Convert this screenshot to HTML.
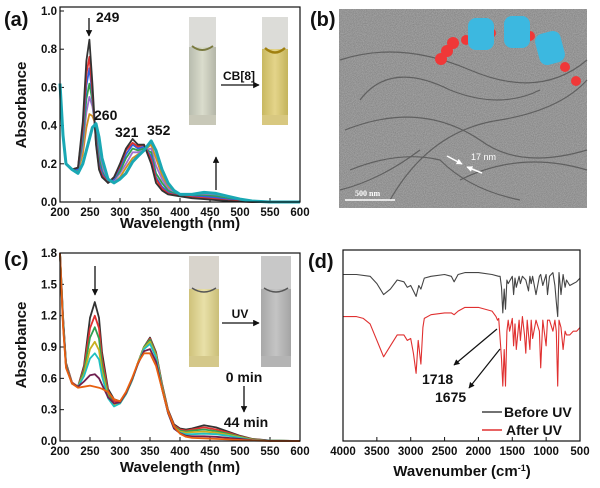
<!DOCTYPE html>
<html><head><meta charset="utf-8">
<style>
html,body{margin:0;padding:0;background:#fff;}
svg{display:block;font-family:"Liberation Sans",sans-serif;}
.tk{font-size:11.5px;font-weight:bold;fill:#111;}
.ttl{font-size:15px;font-weight:bold;fill:#111;}
.pl{font-size:20px;font-weight:bold;fill:#111;}
.ann{font-size:14px;font-weight:bold;fill:#111;}
</style></head>
<body>
<svg id="fig" width="600" height="488" viewBox="0 0 600 488">
<defs>
<filter id="noise" x="0" y="0" width="100%" height="100%">
<feTurbulence type="fractalNoise" baseFrequency="1.1" numOctaves="2" seed="3"/>
<feColorMatrix type="matrix" values="0 0 0 0 0.5  0 0 0 0 0.5  0 0 0 0 0.5  0 0 0 1.6 -0.3"/>
<feComposite in2="SourceGraphic" operator="in"/>
</filter>
<linearGradient id="cuvA1" x1="0" x2="1"><stop offset="0" stop-color="#b8bcae"/><stop offset="0.5" stop-color="#dadccc"/><stop offset="1" stop-color="#b4b6a8"/></linearGradient>
<linearGradient id="cuvA2" x1="0" x2="1"><stop offset="0" stop-color="#c8b860"/><stop offset="0.5" stop-color="#e4d48a"/><stop offset="1" stop-color="#c4b45c"/></linearGradient>
<linearGradient id="cuvC1" x1="0" x2="1"><stop offset="0" stop-color="#cfc27a"/><stop offset="0.5" stop-color="#e8e0a8"/><stop offset="1" stop-color="#cabe78"/></linearGradient>
<linearGradient id="cuvC2" x1="0" x2="1"><stop offset="0" stop-color="#a8a8a8"/><stop offset="0.5" stop-color="#c4c4c4"/><stop offset="1" stop-color="#a4a4a4"/></linearGradient>
<marker id="ah" viewBox="0 0 10 10" refX="9" refY="5" markerWidth="5" markerHeight="5" orient="auto"><path d="M0,0 L10,5 L0,10 z" fill="#111"/></marker>
<marker id="ahw" viewBox="0 0 10 10" refX="9" refY="5" markerWidth="4" markerHeight="4" orient="auto"><path d="M0,0 L10,5 L0,10 z" fill="#fff"/></marker>
</defs>

<!-- Panel A -->
<g id="pa">
<text class="pl" x="4" y="26">(a)</text>
<text class="ttl" transform="translate(26,105) rotate(-90)" text-anchor="middle">Absorbance</text>
<text class="ttl" x="180" y="228" text-anchor="middle">Wavelength (nm)</text>
<g id="pa-ticks"></g>
<g id="pa-series"></g>
<rect x="60" y="7" width="240" height="195" fill="none" stroke="#111" stroke-width="1.2"/>
<g>
<rect x="189" y="17" width="27" height="108" fill="url(#cuvA1)"/>
<rect x="189" y="17" width="27" height="30" fill="#dcdcd8"/>
<rect x="189" y="115" width="27" height="10" fill="#c8c8b8"/>
<path d="M192,46 Q202,54 213,46" stroke="#7a7a40" stroke-width="2" fill="none"/>
</g>
<g>
<rect x="262" y="17" width="26" height="108" fill="url(#cuvA2)"/>
<rect x="262" y="17" width="26" height="32" fill="#dcdcd8"/>
<rect x="262" y="115" width="26" height="10" fill="#d8c880"/>
<path d="M265,48 Q275,57 285,48" stroke="#a08010" stroke-width="2.5" fill="none"/>
</g>
<text class="tk" x="239" y="80" text-anchor="middle" style="font-size:12px">CB[8]</text>
<line x1="221" y1="85" x2="259" y2="85" stroke="#111" stroke-width="1.3" marker-end="url(#ah)"/>
<line x1="216" y1="190" x2="216" y2="157" stroke="#111" stroke-width="1.3" marker-end="url(#ah)"/>
<line x1="89" y1="18" x2="89" y2="36" stroke="#111" stroke-width="1.3" marker-end="url(#ah)"/>
<text class="ann" x="96" y="22">249</text>
<text class="ann" x="94" y="120">260</text>
<text class="ann" x="115" y="137">321</text>
<text class="ann" x="147" y="135">352</text>
</g>

<!-- Panel B -->
<g id="pb">
<text class="pl" x="310" y="26">(b)</text>
<rect x="339" y="9" width="248" height="199" fill="#858585"/>
<rect x="339" y="9" width="248" height="199" fill="#fff" filter="url(#noise)" opacity="0.6"/>
<g fill="none" stroke="#4a4a4a" stroke-width="1.2" opacity="0.7">
<path d="M340,60 Q400,40 470,70 T587,60"/>
<path d="M345,130 Q420,100 480,140 Q520,170 587,150"/>
<path d="M350,170 Q400,150 440,160 Q470,190 520,200"/>
<path d="M360,100 Q390,60 450,90 Q500,110 540,90"/>
<path d="M390,200 Q430,130 500,120 Q560,110 587,80"/>
<path d="M340,190 Q380,180 420,150"/>
<path d="M460,180 Q520,150 587,170"/>
</g>
<g>
<circle cx="441" cy="59" r="6" fill="#f03838"/><circle cx="447" cy="51" r="6" fill="#f03838"/><circle cx="453" cy="43" r="6" fill="#f03838"/>
<circle cx="466" cy="40" r="5" fill="#f03838"/><circle cx="491" cy="33" r="5" fill="#f03838"/><circle cx="530" cy="36" r="5" fill="#f03838"/><circle cx="565" cy="67" r="5" fill="#f03838"/><circle cx="576" cy="81" r="5" fill="#f03838"/>
<rect x="468" y="18" width="26" height="32" rx="8" fill="#3cb8e0"/>
<rect x="504" y="16" width="26" height="32" rx="8" fill="#3cb8e0"/>
<rect x="537" y="32" width="26" height="32" rx="8" fill="#3cb8e0" transform="rotate(-15 550 48)"/>
</g>
<line x1="447" y1="156" x2="462" y2="164" stroke="#fff" stroke-width="1.5" marker-end="url(#ahw)"/>
<line x1="482" y1="173" x2="467" y2="167" stroke="#fff" stroke-width="1.5" marker-end="url(#ahw)"/>
<text x="471" y="160" fill="#fff" style="font-size:9px">17 nm</text>
<line x1="345" y1="200" x2="395" y2="200" stroke="#fff" stroke-width="1.5"/>
<text x="355" y="196" fill="#fff" style="font-size:8px;font-family:'Liberation Serif',serif;font-weight:bold">500 nm</text>
</g>

<!-- Panel C -->
<g id="pc">
<text class="pl" x="4" y="266">(c)</text>
<text class="ttl" transform="translate(26,345) rotate(-90)" text-anchor="middle">Absorbance</text>
<text class="ttl" x="180" y="472" text-anchor="middle">Wavelength (nm)</text>
<g id="pc-ticks"></g>
<g id="pc-series"></g>
<rect x="60" y="253" width="240" height="188" fill="none" stroke="#111" stroke-width="1.2"/>
<g>
<rect x="189" y="256" width="30" height="111" fill="url(#cuvC1)"/>
<rect x="189" y="256" width="30" height="33" fill="#d8d4cc"/>
<rect x="189" y="356" width="30" height="11" fill="#d4c88a"/>
<path d="M192,288 Q204,296 216,288" stroke="#555" stroke-width="1.5" fill="none"/>
</g>
<g>
<rect x="261" y="256" width="30" height="111" fill="url(#cuvC2)"/>
<rect x="261" y="256" width="30" height="33" fill="#c8c8c8"/>
<rect x="261" y="356" width="30" height="11" fill="#b4b4b4"/>
<path d="M264,288 Q276,296 288,288" stroke="#555" stroke-width="1.5" fill="none"/>
</g>
<text class="tk" x="240" y="318" text-anchor="middle" style="font-size:12px">UV</text>
<line x1="222" y1="323" x2="259" y2="323" stroke="#111" stroke-width="1.3" marker-end="url(#ah)"/>
<line x1="95" y1="266" x2="95" y2="295" stroke="#111" stroke-width="1.3" marker-end="url(#ah)"/>
<text class="ann" x="244" y="382" text-anchor="middle">0 min</text>
<line x1="244" y1="386" x2="244" y2="412" stroke="#111" stroke-width="1.3" marker-end="url(#ah)"/>
<text class="ann" x="246" y="427" text-anchor="middle">44 min</text>
</g>

<!-- Panel D -->
<g id="pd">
<text class="pl" x="308" y="268">(d)</text>
<text class="ttl" x="462" y="476" text-anchor="middle">Wavenumber (cm<tspan baseline-shift="super" style="font-size:9px">-1</tspan>)</text>
<g id="pd-ticks"></g>
<g id="pd-series"></g>
<rect x="343" y="250" width="237" height="191" fill="none" stroke="#111" stroke-width="1.2"/>
<line x1="497" y1="329" x2="454" y2="365" stroke="#111" stroke-width="1.2" marker-end="url(#ah)"/>
<line x1="500" y1="349" x2="469" y2="388" stroke="#111" stroke-width="1.2" marker-end="url(#ah)"/>
<text class="ann" x="422" y="384">1718</text>
<text class="ann" x="435" y="402">1675</text>
<line x1="482" y1="412" x2="502" y2="412" stroke="#444" stroke-width="1.5"/>
<text class="ann" x="504" y="417">Before UV</text>
<line x1="482" y1="430" x2="502" y2="430" stroke="#e03030" stroke-width="1.5"/>
<text class="ann" x="506" y="435">After UV</text>
</g>
</svg>
<script>
// ---- Panel A data ----
const aWl = [200,205,210,220,230,238,244,249,254,260,265,270,280,290,300,310,321,330,340,352,360,370,380,390,400,420,440,460,480,500,520,550,600];
const aBlack  = [0.62,0.35,0.2,0.17,0.18,0.42,0.74,0.85,0.62,0.3,0.17,0.13,0.1,0.13,0.2,0.28,0.33,0.3,0.3,0.2,0.1,0.06,0.04,0.035,0.03,0.02,0.015,0.01,0.005,0.002,0,0,0];
const aRed    = [0.62,0.35,0.2,0.17,0.18,0.39,0.67,0.76,0.58,0.31,0.18,0.14,0.1,0.13,0.19,0.27,0.31,0.29,0.3,0.22,0.12,0.07,0.045,0.038,0.032,0.025,0.02,0.015,0.008,0.004,0,0,0];
const aBlue   = [0.62,0.35,0.2,0.17,0.17,0.36,0.61,0.7,0.56,0.33,0.2,0.15,0.1,0.12,0.18,0.25,0.3,0.28,0.29,0.24,0.13,0.08,0.05,0.04,0.034,0.028,0.028,0.022,0.012,0.006,0.002,0,0];
const aGreen  = [0.62,0.35,0.2,0.17,0.17,0.32,0.54,0.62,0.53,0.35,0.23,0.16,0.1,0.12,0.16,0.23,0.28,0.27,0.28,0.26,0.15,0.1,0.06,0.045,0.036,0.032,0.034,0.03,0.018,0.008,0.003,0,0];
const aPurple = [0.62,0.35,0.2,0.17,0.17,0.29,0.47,0.55,0.5,0.38,0.26,0.18,0.11,0.11,0.15,0.2,0.26,0.26,0.27,0.28,0.19,0.12,0.07,0.05,0.038,0.035,0.04,0.036,0.022,0.01,0.004,0,0];
const aOrange = [0.62,0.35,0.2,0.17,0.16,0.25,0.39,0.46,0.45,0.4,0.3,0.2,0.11,0.1,0.13,0.18,0.23,0.25,0.27,0.3,0.23,0.14,0.08,0.055,0.04,0.038,0.046,0.04,0.027,0.012,0.004,0,0];
const aTeal   = [0.62,0.35,0.2,0.17,0.15,0.2,0.27,0.33,0.39,0.41,0.34,0.23,0.12,0.1,0.12,0.15,0.21,0.24,0.27,0.32,0.27,0.17,0.1,0.06,0.04,0.04,0.05,0.045,0.03,0.015,0.005,0,0];
const aXTicks = [200,250,300,350,400,450,500,550,600];
const aYTicks = ["0.0","0.2","0.4","0.6","0.8","1.0"];

// ---- Panel C data ----
const cWl = [200,205,210,220,230,240,250,258,265,270,280,290,300,310,320,330,340,350,360,370,380,390,400,410,420,440,460,480,500,520,550,600];
const cBlack  = [1.8,1.2,0.75,0.56,0.52,0.72,1.18,1.33,1.18,0.85,0.5,0.4,0.38,0.45,0.58,0.75,0.9,0.99,0.85,0.55,0.3,0.16,0.12,0.11,0.12,0.15,0.13,0.09,0.05,0.02,0.005,0];
const cRed    = [1.8,1.18,0.74,0.56,0.52,0.7,1.08,1.2,1.08,0.79,0.48,0.38,0.37,0.45,0.58,0.75,0.9,0.98,0.84,0.54,0.29,0.15,0.11,0.1,0.11,0.13,0.11,0.08,0.045,0.018,0.004,0];
const cGreen  = [1.8,1.16,0.73,0.55,0.52,0.67,0.99,1.09,0.98,0.73,0.45,0.35,0.36,0.45,0.58,0.75,0.9,0.97,0.83,0.53,0.28,0.14,0.1,0.09,0.1,0.11,0.095,0.07,0.04,0.015,0.004,0];
const cYellow = [1.8,1.15,0.72,0.55,0.52,0.64,0.88,0.95,0.87,0.67,0.43,0.34,0.36,0.45,0.58,0.75,0.89,0.95,0.82,0.52,0.28,0.13,0.09,0.08,0.085,0.09,0.08,0.06,0.035,0.013,0.003,0];
const cCyan   = [1.8,1.14,0.72,0.55,0.52,0.62,0.79,0.84,0.78,0.62,0.41,0.33,0.36,0.45,0.58,0.74,0.88,0.93,0.8,0.51,0.27,0.12,0.08,0.065,0.065,0.07,0.065,0.05,0.03,0.01,0.003,0];
const cPlum   = [1.8,1.12,0.71,0.55,0.52,0.57,0.63,0.64,0.6,0.54,0.42,0.36,0.37,0.46,0.59,0.74,0.86,0.88,0.76,0.5,0.27,0.12,0.075,0.05,0.045,0.045,0.04,0.03,0.02,0.008,0.002,0];
const cOrange = [1.8,1.1,0.7,0.55,0.51,0.52,0.53,0.52,0.51,0.5,0.47,0.4,0.38,0.47,0.6,0.75,0.84,0.84,0.72,0.5,0.28,0.14,0.07,0.04,0.03,0.025,0.02,0.015,0.01,0.005,0,0];
const cXTicks = [200,250,300,350,400,450,500,550,600];
const cYTicks = ["0.0","0.3","0.6","0.9","1.2","1.5","1.8"];

// ---- Panel D data (transmittance, arbitrary units) ----
const dBeforeWn = [4000,3800,3600,3500,3400,3300,3200,3100,3050,3000,2960,2920,2880,2850,2800,2700,2500,2400,2360,2300,2200,2000,1800,1700,1680,1660,1640,1620,1600,1580,1560,1500,1480,1460,1440,1400,1380,1350,1300,1260,1240,1220,1200,1150,1100,1080,1050,1000,980,950,900,870,850,830,810,780,750,720,700,650,600,550,500];
const dBeforeT  = [91,91,90,86,80,83,88,87,84,85,82,79,85,83,89,90,91,90,87,91,92,92,91,90,90,84,70,83,72,88,86,90,80,89,84,90,86,90,88,82,90,86,90,80,90,91,85,91,80,90,92,85,76,68,92,80,91,84,88,85,86,87,89];
const dAfterWn = [4000,3800,3700,3600,3500,3400,3300,3200,3100,3050,3000,2960,2920,2890,2850,2820,2800,2700,2500,2400,2360,2300,2200,2000,1800,1740,1718,1700,1680,1660,1640,1620,1600,1580,1560,1540,1500,1480,1460,1440,1400,1380,1350,1320,1300,1280,1240,1220,1200,1150,1100,1080,1050,1000,980,950,900,870,850,830,810,780,750,720,700,650,600,550,500];
const dAfterT  = [68,68,67,64,55,46,52,58,58,55,56,48,37,55,42,62,67,69,70,70,69,71,73,73,71,68,66,67,56,45,30,50,30,60,66,60,67,52,64,50,66,55,68,58,48,66,50,66,56,66,60,40,66,52,66,66,60,66,60,30,66,62,50,60,58,58,60,60,62];
const dXTicks = [4000,3500,3000,2500,2000,1500,1000,500];

const NS = "http://www.w3.org/2000/svg";
function mk(tag, attrs, parent){ const e=document.createElementNS(NS,tag); for(const k in attrs) e.setAttribute(k,attrs[k]); parent.appendChild(e); return e; }
function lin(d0,d1,r0,r1){ return v => r0 + (v-d0)/(d1-d0)*(r1-r0); }

function drawLine(parent, xs, ys, xf, yf, color, w, name){
  let d = "";
  for(let i=0;i<xs.length;i++){ d += (i?"L":"M") + xf(xs[i]).toFixed(1) + "," + yf(ys[i]).toFixed(1); }
  const p = mk("path",{d:d,fill:"none",stroke:color,"stroke-width":w,"stroke-linejoin":"round"},parent);
  
  
}
function xTicks(parent, ticks, xf, yBase, labelY, prefix){
  ticks.forEach(t=>{
    const x = xf(t);
    const l = mk("line",{x1:x,x2:x,y1:yBase,y2:yBase-4,stroke:"#111","stroke-width":1},parent);
    
    
    const tx = mk("text",{x:x,y:labelY,"text-anchor":"middle","class":"tk"},parent);
    tx.textContent = t;
    
    
  });
}
function yTicks(parent, ticks, yf, xBase, prefix){
  ticks.forEach(t=>{
    const y = yf(parseFloat(t));
    const l = mk("line",{x1:xBase,x2:xBase+4,y1:y,y2:y,stroke:"#111","stroke-width":1},parent);
    
    
    const tx = mk("text",{x:xBase-3,y:y+4,"text-anchor":"end","class":"tk"},parent);
    tx.textContent = t;
    
    
  });
}

// Panel A
const axA = lin(200,600,60,300), ayA = lin(0,1,202,11);
xTicks(document.getElementById("pa-ticks"), aXTicks, axA, 202, 216, "panel-a");
yTicks(document.getElementById("pa-ticks"), aYTicks, ayA, 60, "panel-a");
const ga = document.getElementById("pa-series");
[[aTeal,"#1aa8b4"],[aOrange,"#d09020"],[aPurple,"#a070d0"],[aGreen,"#30a050"],[aBlue,"#3060e0"],[aRed,"#e03030"],[aBlack,"#333"]].forEach((s,i)=>drawLine(ga,aWl,s[0],axA,ayA,s[1],1.8,"panel-a-series-"+i));
drawLine(ga,aWl,aTeal,axA,ayA,"#1aa8b4",3,"panel-a-series-final");

// Panel C
const axC = lin(200,600,60,300), ayC = lin(0,1.8,441,253);
xTicks(document.getElementById("pc-ticks"), cXTicks, axC, 441, 455, "panel-c");
yTicks(document.getElementById("pc-ticks"), cYTicks, ayC, 60, "panel-c");
const gc = document.getElementById("pc-series");
[[cBlack,"#333"],[cRed,"#e03030"],[cGreen,"#30a050"],[cYellow,"#c8b020"],[cCyan,"#20c0c0"],[cPlum,"#702050"],[cOrange,"#e86010"]].forEach((s,i)=>drawLine(gc,cWl,s[0],axC,ayC,s[1],1.8,"panel-c-series-"+i));

// Panel D
const axD = lin(4000,500,343,580), ayD = lin(0,100,441,258);
xTicks(document.getElementById("pd-ticks"), dXTicks, axD, 441, 455, "panel-d");
const gd = document.getElementById("pd-series");
drawLine(gd,dBeforeWn,dBeforeT,axD,ayD,"#444",1.1,"before-uv-spectrum");
drawLine(gd,dAfterWn,dAfterT,axD,ayD,"#e03030",1.1,"after-uv-spectrum");
</script>
</body></html>
